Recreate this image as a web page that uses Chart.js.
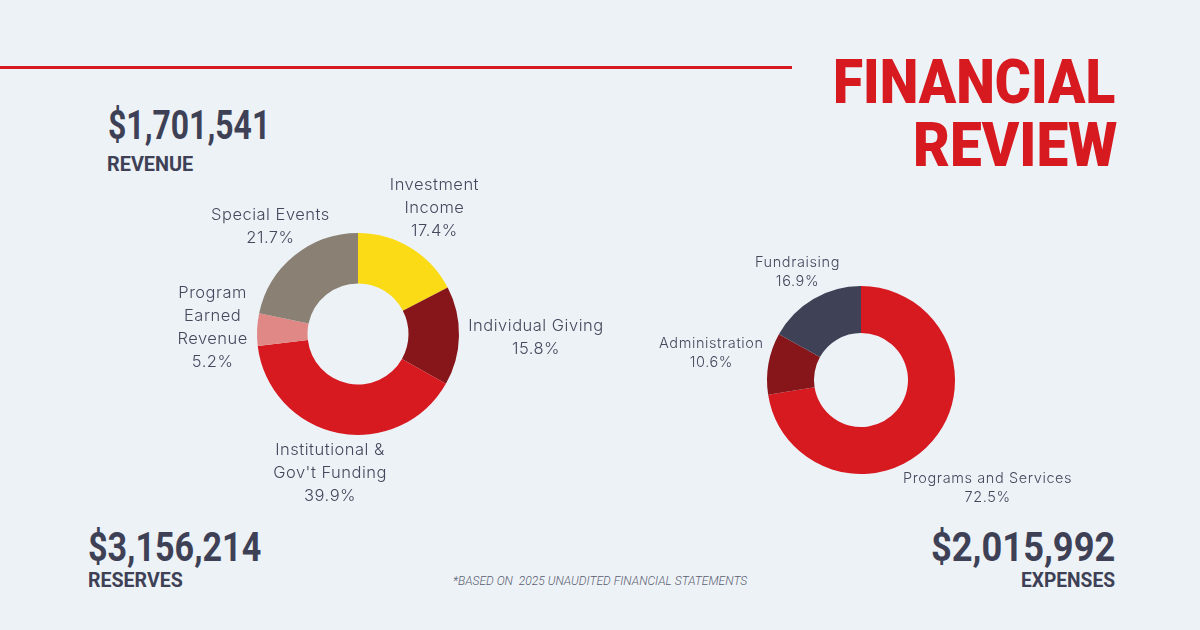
<!DOCTYPE html>
<html>
<head>
<meta charset="utf-8">
<script src="https://cdn.jsdelivr.net/npm/chart.js@4.4.1/dist/chart.umd.min.js"></script>
<style>
  html, body { margin:0; padding:0; }
  body { width:1200px; height:630px; background:#EDF2F7; position:relative; overflow:hidden; font-family:Roboto, sans-serif; color:#3E4156; }
  .rule { position:absolute; left:0; top:66px; width:792px; height:3px; background:#D71920; }
  .t { position:absolute; white-space:nowrap; line-height:1; transform-origin:left top; }
  .title { color:#D71920; font-weight:900; font-size:62px; }
  .big { font-weight:700; font-size:40px; }
  .cap { font-weight:700; font-size:21px; }
  .note { font-style:italic; font-weight:300; font-size:12px; color:#5A5E70; }
  .chart { position:absolute; }
</style>
</head>
<body>
<div class="rule"></div>

<div class="t title" style="left:833px; top:51px" data-w="282">FINANCIAL</div>
<div class="t title" style="left:913px; top:114px" data-w="204">REVIEW</div>

<div class="t big" style="left:108px; top:106px" data-w="162">$1,701,541</div>
<div class="t cap" style="left:107px; top:154px" data-w="86">REVENUE</div>

<div class="t big" style="left:88px; top:528px" data-w="173">$3,156,214</div>
<div class="t cap" style="left:88px; top:570px" data-w="95">RESERVES</div>

<div class="t big" style="left:931px; top:528px" data-w="184">$2,015,992</div>
<div class="t cap" style="left:1021px; top:570px" data-w="94">EXPENSES</div>

<div class="t note" style="left:453px; top:575px" data-w="294">*BASED ON &nbsp;2025 UNAUDITED FINANCIAL STATEMENTS</div>

<div class="chart" style="left:78px; top:154px; width:560px; height:360px"><canvas id="revenue"></canvas></div>
<div class="chart" style="left:621px; top:220px; width:480px; height:320px"><canvas id="expenses"></canvas></div>

<script>
// revenue breakdown, clockwise from 12 o'clock
const revenueCats = [["Investment", "Income"], ["Individual Giving"], ["Institutional &", "Gov't Funding"], ["Program", "Earned", "Revenue"], ["Special Events"]];
const revenuePct = [17.4, 15.8, 39.9, 5.2, 21.7];
const revenueColors = ["#FADB16", "#86161A", "#D71920", "#E08886", "#8A8073"];

// expense breakdown
const expenseCats = [["Programs and Services"], ["Administration"], ["Fundraising"]];
const expensePct = [72.5, 10.6, 16.9];
const expenseColors = ["#D71920", "#86161A", "#3F4257"];

// scale text blocks horizontally to the widths seen in the layout
function fitText() {
  document.querySelectorAll(".t[data-w]").forEach(el => {
    const w = el.offsetWidth;
    const target = Number(el.dataset.w);
    el.style.transform = `scaleX(${(target / w).toFixed(4)})`;
  });
}

// labels outside each slice: block centred on the slice's middle angle,
// pushed out until every line clears the ring by `pad`
const outsideLabels = {
  id: "outsideLabels",
  afterDatasetsDraw(chart, args, opts) {
    const ctx = chart.ctx;
    const cats = chart.data.labels;
    const vals = chart.data.datasets[0].data;
    ctx.save();
    ctx.font = `300 ${opts.size}px Inter, Roboto, sans-serif`;
    ctx.letterSpacing = opts.spacing + "px";
    ctx.fillStyle = "#45485C";
    ctx.textAlign = "center";
    ctx.textBaseline = "middle";
    const hh = opts.size * 0.37; // half the ink height of a line
    chart.getDatasetMeta(0).data.forEach((arc, i) => {
      const p = arc.getProps(["x", "y", "startAngle", "endAngle", "outerRadius"], true);
      const mid = (p.startAngle + p.endAngle) / 2;
      const dx = Math.cos(mid), dy = Math.sin(mid);
      const lines = cats[i].concat([vals[i].toFixed(1) + "%"]);
      const n = lines.length;
      const widths = lines.map(l => ctx.measureText(l).width);
      const clear = p.outerRadius + opts.pad;
      let t = 0;
      const ok = t => lines.every((l, k) => {
        const lx = dx * t, ly = dy * t + (k - (n - 1) / 2) * opts.lineHeight;
        const ex = Math.max(Math.abs(lx) - widths[k] / 2, 0);
        const ey = Math.max(Math.abs(ly) - hh, 0);
        return Math.hypot(ex, ey) >= clear;
      });
      while (!ok(t) && t < 400) t += 0.5;
      const cx = p.x + dx * t, cy = p.y + dy * t;
      lines.forEach((l, k) => {
        ctx.fillText(l, cx, cy + (k - (n - 1) / 2) * opts.lineHeight);
      });
    });
    ctx.restore();
  }
};

function donut(id, cats, vals, colors, padY, labelOpts) {
  return new Chart(document.getElementById(id), {
    type: "doughnut",
    data: { labels: cats, datasets: [{ data: vals, backgroundColor: colors, borderWidth: 0, hoverOffset: 0 }] },
    options: {
      responsive: true, maintainAspectRatio: false, animation: false,
      cutout: "50%",
      layout: { padding: { top: padY, bottom: padY } },
      plugins: { legend: { display: false }, tooltip: { enabled: false }, outsideLabels: labelOpts }
    },
    plugins: [outsideLabels]
  });
}

document.fonts.ready.then(() => {
  fitText();
  donut("revenue", revenueCats, revenuePct, revenueColors, 79, { size: 16.5, spacing: 0.5, lineHeight: 23, pad: 9 });
  donut("expenses", expenseCats, expensePct, expenseColors, 66, { size: 14.5, spacing: 0.6, lineHeight: 19, pad: 8 });
});
</script>
</body>
</html>
